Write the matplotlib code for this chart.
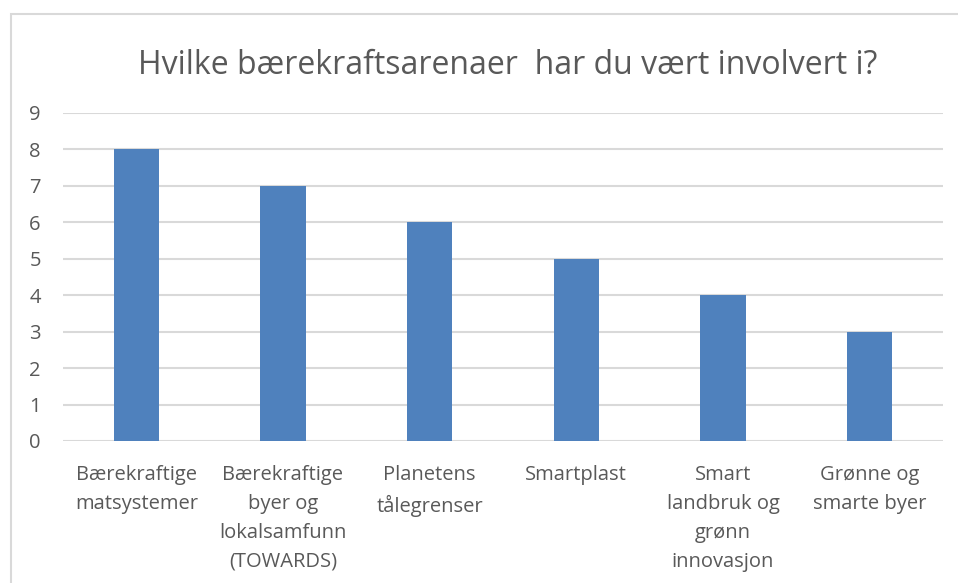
import matplotlib.pyplot as plt
from matplotlib.patches import Rectangle

plt.rcParams['font.family'] = ['Open Sans', 'DejaVu Sans']

# Data
categories = [
    "Bærekraftige\nmatsystemer",
    "Bærekraftige\nbyer og\nlokalsamfunn\n(TOWARDS)",
    "Planetens\ntålegrenser",
    "Smartplast",
    "Smart\nlandbruk og\ngrønn\ninnovasjon",
    "Grønne og\nsmarte byer",
]
values = [8, 7, 6, 5, 4, 3]
y_ticks = list(range(0, 10))

TEXT_COLOR = '#595959'
BAR_COLOR = '#4F81BD'
GRID_COLOR = '#D9D9D9'

fig = plt.figure(figsize=(9.58, 5.83), dpi=100)
fig.patch.set_facecolor('white')

# chart frame (cropped on right and bottom)
fig.patches.append(Rectangle((11 / 958, -0.1), 1.2, 1.1 - 14 / 583,
                             transform=fig.transFigure, fill=False,
                             edgecolor='#D9D9D9', linewidth=1.5))

ax = fig.add_axes([63 / 958, 1 - 441 / 583, 880 / 958, (441 - 113) / 583])

x = range(len(categories))
ax.bar(x, values, width=0.31, color=BAR_COLOR, zorder=3)

ax.set_xlim(-0.5, len(categories) - 0.5)
ax.set_ylim(0, 9)
ax.set_yticks(y_ticks)
ax.set_xticks(list(x))
ax.set_xticklabels(categories, linespacing=1.6)

ax.grid(axis='y', color=GRID_COLOR, linewidth=1.5, zorder=0)
for s in ax.spines.values():
    s.set_visible(False)
ax.tick_params(axis='both', length=0, labelsize=14.5, colors=TEXT_COLOR)
ax.tick_params(axis='y', pad=16)
ax.tick_params(axis='x', pad=17)

fig.text(508 / 958, 1 - 65 / 583, "Hvilke bærekraftsarenaer  har du vært involvert i?",
         ha='center', va='center', fontsize=23, color=TEXT_COLOR)

fig.savefig('out.png', dpi=100)
